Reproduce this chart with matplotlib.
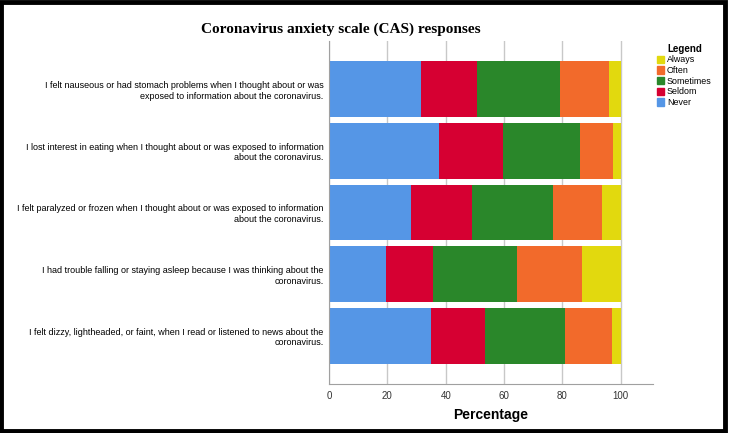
import matplotlib.pyplot as plt
from matplotlib.patches import Rectangle, Patch

# Survey items (top to bottom)
items = [
    "I felt nauseous or had stomach problems when I thought about or was\nexposed to information about the coronavirus.",
    "I lost interest in eating when I thought about or was exposed to information\nabout the coronavirus.",
    "I felt paralyzed or frozen when I thought about or was exposed to information\nabout the coronavirus.",
    "I had trouble falling or staying asleep because I was thinking about the\ncoronavirus.",
    "I felt dizzy, lightheaded, or faint, when I read or listened to news about the\ncoronavirus.",
]

# Percentages per response category
never = [31.5, 37.7, 28.0, 19.4, 34.9]
seldom = [19.2, 21.8, 21.1, 16.2, 18.4]
sometimes = [28.4, 26.5, 27.7, 28.9, 27.5]
often = [17.0, 11.3, 16.9, 22.3, 16.1]
always = [3.9, 2.7, 6.3, 13.2, 3.1]

categories = ["Never", "Seldom", "Sometimes", "Often", "Always"]
series = [never, seldom, sometimes, often, always]
colors = ["#5596e6", "#d60032", "#2a872a", "#f26a2b", "#e2d90e"]

plt.rcParams['font.family'] = ['Liberation Sans', 'DejaVu Sans']

fig = plt.figure(figsize=(7.29, 4.33), dpi=100)
ax = fig.add_axes([0.4513, 0.1132, 0.4444, 0.7921])

y = list(range(len(items)))
left = [0] * len(items)
for name, vals, col in zip(categories, series, colors):
    ax.barh(y, vals, left=left, height=0.9, color=col, label=name, zorder=2)
    left = [a + b for a, b in zip(left, vals)]

ax.set_ylim(4.78, -0.78)
ax.set_xlim(0, 111)
ax.set_xticks([0, 20, 40, 60, 80, 100])
ax.set_yticks(y)
ax.set_yticklabels(items, fontsize=6.5, ha='right')
ax.tick_params(axis='x', length=0, labelsize=7, pad=5, colors='#333333')
ax.tick_params(axis='y', length=0, pad=4)
ax.grid(axis='x', color='#c8c8c8', linewidth=1, zorder=0)
for s in ['top', 'right']:
    ax.spines[s].set_visible(False)
for s in ['left', 'bottom']:
    ax.spines[s].set_color('#a0a0a0')

ax.set_xlabel("Percentage", fontsize=10, fontweight='bold', labelpad=5)

fig.text(0.468, 0.933, "Coronavirus anxiety scale (CAS) responses",
         ha='center', va='center', fontsize=11, fontweight='bold',
         family='Liberation Serif')

handles = [Patch(color=c, label=n) for n, c in zip(categories[::-1], colors[::-1])]
leg = fig.legend(handles=handles, loc='upper left', bbox_to_anchor=(0.893, 0.913),
                 frameon=False, fontsize=6.4, title="Legend",
                 title_fontproperties={'weight': 'bold', 'size': 7},
                 handlelength=0.8, handleheight=0.9, handletextpad=0.3,
                 labelspacing=0.18, borderpad=0.2)

fig.patches.append(Rectangle((0.002, 0.004), 0.993, 0.991, transform=fig.transFigure,
                             fill=False, edgecolor='black', linewidth=3.5))

fig.savefig("out.png", dpi=100)
